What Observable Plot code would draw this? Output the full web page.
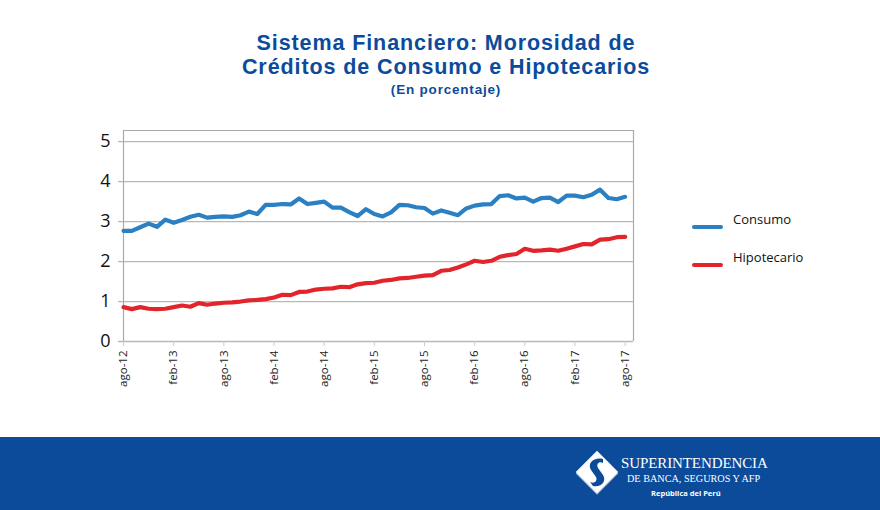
<!DOCTYPE html>
<html>
<head>
<meta charset="utf-8">
<script src="https://cdn.jsdelivr.net/npm/d3@7"></script>
<script src="https://cdn.jsdelivr.net/npm/@observablehq/plot@0.6"></script>
<style>
  html, body { margin: 0; padding: 0; background: #fff; }
  body { width: 880px; height: 510px; position: relative; overflow: hidden; font-family: "Open Sans", "Noto Sans", sans-serif; }
  .tl { position: absolute; left: 0; width: 892px; text-align: center; color: #0b4b9c; font-family: "Liberation Sans", Arial, sans-serif; font-weight: 700; font-size: 21.5px; line-height: 24px; letter-spacing: 0.9px; white-space: nowrap; }
  #subtitle { position: absolute; left: 0; top: 82px; width: 892px; text-align: center; color: #0b4b9c; font-family: "Liberation Sans", Arial, sans-serif; font-weight: 700; font-size: 13.5px; line-height: 15px; letter-spacing: 0.8px; }
  #chart { position: absolute; left: 0; top: 110px; }
  #legend { position: absolute; left: 690px; top: 210px; font-size: 13px; color: #111; font-family: "Open Sans", sans-serif; }
  .li { position: absolute; white-space: nowrap; }
  .sw { position: absolute; width: 31px; height: 4px; border-radius: 2px; }
  #footer { position: absolute; left: 0; top: 437px; width: 880px; height: 73px; background: #0c4a9a; }
  #brand { position: absolute; left: 621px; top: 18px; color: #fff; font-family: "Liberation Serif", "DejaVu Serif", serif; }
</style>
</head>
<body>
<div class="tl" style="top:31px">Sistema Financiero: Morosidad de</div>
<div class="tl" style="top:55px">Créditos de Consumo e Hipotecarios</div>
<div id="subtitle">(En porcentaje)</div>
<div id="chart"></div>
<div id="legend"></div>
<div id="footer">
  <svg width="60" height="73" style="position:absolute;left:572px;top:0">
    <g transform="translate(25,35) rotate(45)">
      <rect x="-14" y="-14" width="30" height="30" fill="#aebbd0"/>
      <rect x="-15" y="-15" width="30" height="30" fill="#fff"/>
    </g>
    <path d="M 31 22 C 22 20 15 26 19 33 L 24 40 C 26 44 22 47 18 45 L 21 49 C 29 51 35 44 31 38 L 26 31 C 24 27 27 24 31 26 Z" fill="#0c4a9a"/>
  </svg>
  <div id="brand">
    <div style="font-size:15px;line-height:17px;letter-spacing:-0.1px">SUPERINTENDENCIA</div>
    <div style="font-size:10.2px;line-height:13px;margin-left:6px">DE BANCA, SEGUROS Y AFP</div>
    <div style="font-size:7.5px;line-height:17px;margin-left:30px;font-family:'Open Sans',sans-serif;font-weight:700">República del Perú</div>
  </div>
</div>
<script>
// Monthly data, ago-12 .. ago-17
const consumo = [2.77,2.77,2.86,2.95,2.87,3.05,2.97,3.04,3.12,3.17,3.10,3.12,3.13,3.12,3.16,3.25,3.19,3.42,3.42,3.44,3.43,3.58,3.44,3.47,3.50,3.35,3.35,3.24,3.14,3.31,3.19,3.13,3.23,3.42,3.41,3.36,3.34,3.20,3.28,3.22,3.16,3.33,3.40,3.43,3.44,3.64,3.66,3.58,3.60,3.50,3.59,3.60,3.49,3.65,3.65,3.61,3.67,3.80,3.59,3.56,3.62];
const hipotecario = [0.86,0.81,0.86,0.82,0.81,0.82,0.86,0.90,0.87,0.96,0.92,0.95,0.97,0.98,1.00,1.03,1.04,1.06,1.10,1.17,1.16,1.24,1.25,1.30,1.32,1.33,1.37,1.36,1.43,1.46,1.47,1.52,1.54,1.58,1.59,1.62,1.65,1.66,1.77,1.79,1.85,1.93,2.02,1.99,2.02,2.12,2.16,2.19,2.32,2.27,2.28,2.30,2.27,2.32,2.38,2.44,2.43,2.55,2.56,2.61,2.62];
const tickPositions = [0,6,12,18,24,30,36,42,48,54,60];
const tickLabels = ["ago-12","feb-13","ago-13","feb-14","ago-14","feb-15","ago-15","feb-16","ago-16","feb-17","ago-17"];
const yTicks = [0,1,2,3,4,5];
const seriesNames = ["Consumo","Hipotecario"];
const seriesColors = ["#2a80c2","#e1252b"];

const data = [
  ...consumo.map((v, i) => ({i, v, s: seriesNames[0]})),
  ...hipotecario.map((v, i) => ({i, v, s: seriesNames[1]}))
];
const labelOf = new Map(tickPositions.map((p, k) => [p, tickLabels[k]]));

const chart = Plot.plot({
  width: 880,
  height: 327,
  marginTop: 20,
  marginBottom: 96,
  marginLeft: 123,
  marginRight: 247,
  style: {fontFamily: "'Open Sans', sans-serif", background: "transparent"},
  x: {domain: [0, 61], ticks: tickPositions, tickFormat: d => labelOf.get(d), label: null},
  y: {domain: [0, 5.28], ticks: yTicks, label: null},
  color: {domain: seriesNames, range: seriesColors},
  marks: [
    Plot.gridY(yTicks, {stroke: "#b9b9b9", strokeOpacity: 1, strokeWidth: 1.3, x1: -0.6, x2: 61}),
    Plot.ruleX([0, 61], {stroke: "#aaa", strokeWidth: 1.2}),
    Plot.ruleY([5.28], {stroke: "#aaa", strokeWidth: 1.2}),
    Plot.axisY({ticks: yTicks, tickFormat: d => String(d), tickSize: 0, tickPadding: 13, fontSize: 18, fill: "#111"}),
    Plot.axisX({ticks: tickPositions, tickFormat: d => labelOf.get(d), tickSize: 5, stroke: "#ccc", tickRotate: -90, fontSize: 11.5, fill: "#1a1a1a", tickPadding: 4}),
    Plot.line(data, {x: "i", y: "v", z: "s", stroke: "s", strokeWidth: 4.2, curve: "linear", strokeLinejoin: "round"})
  ]
});
document.getElementById("chart").appendChild(chart);

const legend = document.getElementById("legend");
seriesNames.forEach((n, k) => {
  const row = document.createElement("div");
  row.className = "li";
  row.style.top = (k * 38) + "px";
  row.innerHTML = `<span class="sw" style="background:${seriesColors[k]};left:2px;top:15px"></span><span style="position:absolute;left:43px;top:0px">${n}</span>`;
  legend.appendChild(row);
});
</script>
</body>
</html>
